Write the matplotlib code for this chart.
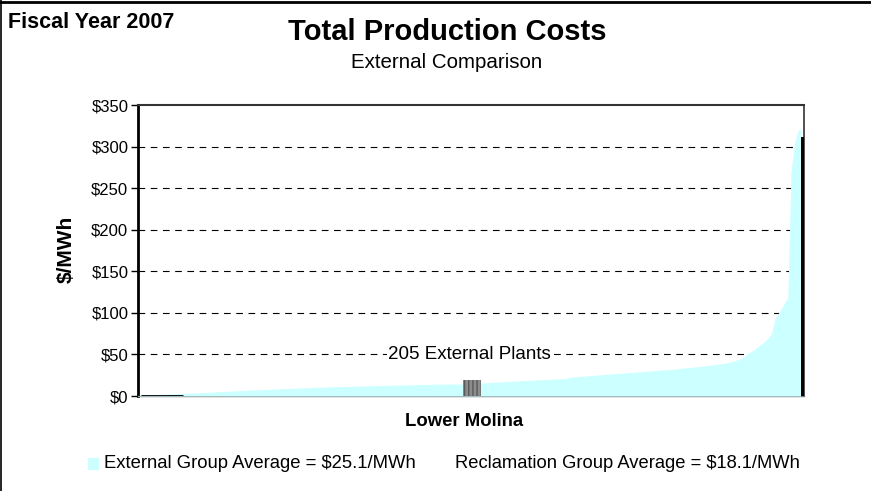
import matplotlib.pyplot as plt
import matplotlib.lines as mlines
import matplotlib.patches as mpatches
import numpy as np

plt.rcParams['font.family'] = ['Liberation Sans', 'DejaVu Sans']

#------------ DATA ----------------------------
# Sorted cost of the 205 external plants, $/MWh.
external_costs = [
    0.5, 0.7, 0.9, 1.1, 1.3, 1.5, 1.7, 1.9, 2.1, 2.3,
    2.5, 2.7, 2.9, 3.1, 3.3, 3.4, 3.6, 3.8, 3.9, 4.0,
    4.2, 4.4, 4.6, 4.8, 5.0, 5.2, 5.4, 5.6, 5.8, 6.0,
    6.2, 6.4, 6.6, 6.8, 7.0, 7.2, 7.4, 7.5, 7.7, 7.9,
    8.0, 8.2, 8.4, 8.5, 8.7, 8.9, 9.0, 9.2, 9.3, 9.5,
    9.6, 9.8, 9.9, 10.1, 10.2, 10.4, 10.5, 10.7, 10.8, 11.0,
    11.1, 11.2, 11.3, 11.4, 11.5, 11.6, 11.7, 11.8, 11.9, 12.0,
    12.1, 12.2, 12.3, 12.4, 12.5, 12.6, 12.7, 12.8, 12.9, 13.0,
    13.1, 13.2, 13.3, 13.4, 13.5, 13.6, 13.7, 13.8, 13.9, 14.0,
    14.0, 14.1, 14.1, 14.2, 14.2, 14.3, 14.3, 14.4, 14.4, 14.5,
    14.6, 14.8, 15.0, 15.2, 15.4, 15.6, 15.8, 16.0, 16.2, 16.5,
    16.7, 16.9, 17.1, 17.3, 17.5, 17.7, 17.9, 18.1, 18.3, 18.5,
    18.7, 18.9, 19.1, 19.3, 19.5, 19.7, 19.9, 20.1, 20.3, 20.5,
    20.7, 20.9, 21.2, 22.5, 23.0, 23.3, 23.6, 23.9, 24.2, 24.5,
    24.8, 25.1, 25.4, 25.7, 26.0, 26.3, 26.6, 26.9, 27.2, 27.5,
    27.8, 28.1, 28.4, 28.7, 29.0, 29.3, 29.6, 29.9, 30.2, 30.5,
    30.8, 31.1, 31.4, 31.7, 32.0, 32.4, 32.8, 33.2, 33.6, 34.0,
    34.4, 34.8, 35.2, 35.6, 36.0, 36.5, 37.0, 37.5, 38.0, 38.6,
    39.2, 39.8, 40.5, 41.5, 43.0,
    44, 46, 49, 52, 54, 57, 60, 63, 66, 70,
    75, 92, 99, 105, 112, 118, 270, 302, 318, 322,
]
n_plants = len(external_costs)

lower_molina_pos = 100      # rank position among the external plants
lower_molina_width = 5.5
lower_molina_cost = 19.5

last_plant_cost = 312       # black bar at the far right

yticks = [0, 50, 100, 150, 200, 250, 300, 350]
ytick_labels = ['$' + str(v) for v in yticks]

external_avg = 25.1
reclamation_avg = 18.1

#------------ DRAW ----------------------------
fig = plt.figure(figsize=(8.71, 4.91), dpi=100)
ax = fig.add_axes([138 / 871, 1 - 396 / 491, 666 / 871, 291 / 491])

x = np.arange(n_plants)
ax.fill_between(x, 0, external_costs, color='#CCFFFF', linewidth=0, zorder=3)

# Lower Molina bar, grey with vertical stripes.
ax.bar(lower_molina_pos, lower_molina_cost, width=lower_molina_width,
       align='edge', color='#8C8C8C', edgecolor='#5A5A5A', hatch='||||',
       linewidth=0, zorder=4)

# Black marks at both ends of the distribution.
ax.plot([0.8, 14], [0, 0], color='black', linewidth=2, zorder=5,
        solid_capstyle='butt')
ax.bar(n_plants - 1, last_plant_cost, width=1.2, align='edge',
       color='black', linewidth=0, zorder=5)

ax.set_xlim(0, n_plants)
ax.set_ylim(0, 350)
ax.set_yticks(yticks)
ax.set_yticklabels(ytick_labels, fontsize=12)
ax.set_xticks([])
ax.tick_params(axis='y', direction='out', length=5, width=1, pad=2)

for v in yticks[1:-1]:
    ax.axhline(v, color='black', linewidth=0.8, linestyle=(0, (6, 5)), zorder=1)

ax.spines['left'].set_linewidth(2)
ax.spines['left'].set_color('black')
ax.spines['top'].set_color('#333333')
ax.spines['top'].set_linewidth(1.5)
ax.spines['right'].set_color('#333333')
ax.spines['right'].set_linewidth(1.2)
ax.spines['bottom'].set_color('#777777')
ax.spines['bottom'].set_linewidth(1)

ax.text(102, 50, '205 External Plants', fontsize=13.5, ha='center', va='center',
        zorder=6, bbox=dict(facecolor='white', edgecolor='none', pad=1))

# Titles and axis labels.
fig.text(8 / 871, 1 - 22 / 491, 'Fiscal Year 2007', fontsize=15.5,
         fontweight='bold', ha='left', va='center')
fig.text(447 / 871, 1 - 32 / 491, 'Total Production Costs', fontsize=21,
         fontweight='bold', ha='center', va='center')
fig.text(447 / 871, 1 - 62 / 491, 'External Comparison', fontsize=14.8,
         ha='center', va='center')
fig.text(464 / 871, 1 - 421 / 491, 'Lower Molina', fontsize=13.3,
         fontweight='bold', ha='center', va='center')
fig.text(66 / 871, 1 - 249 / 491, '$/MWh', fontsize=15, fontweight='bold',
         rotation=90, ha='center', va='center')

# Legend row.
fig.patches.append(mpatches.Rectangle((88 / 871, 1 - 470 / 491), 11 / 871,
                                      12 / 491, transform=fig.transFigure,
                                      facecolor='#CCFFFF', edgecolor='none'))
fig.text(104 / 871, 1 - 464 / 491,
         'External Group Average = $%.1f/MWh' % external_avg,
         fontsize=13.3, ha='left', va='center')
fig.text(455 / 871, 1 - 464 / 491,
         'Reclamation Group Average = $%.1f/MWh' % reclamation_avg,
         fontsize=13.2, ha='left', va='center')

# Outer frame (top and left edges).
fig.add_artist(mlines.Line2D([0, 1], [1 - 1.5 / 491, 1 - 1.5 / 491],
                             transform=fig.transFigure, color='black', linewidth=2))
fig.add_artist(mlines.Line2D([0.6 / 871, 0.6 / 871], [0, 1],
                             transform=fig.transFigure, color='black', linewidth=1.2))

plt.savefig('out.png', dpi=100)
